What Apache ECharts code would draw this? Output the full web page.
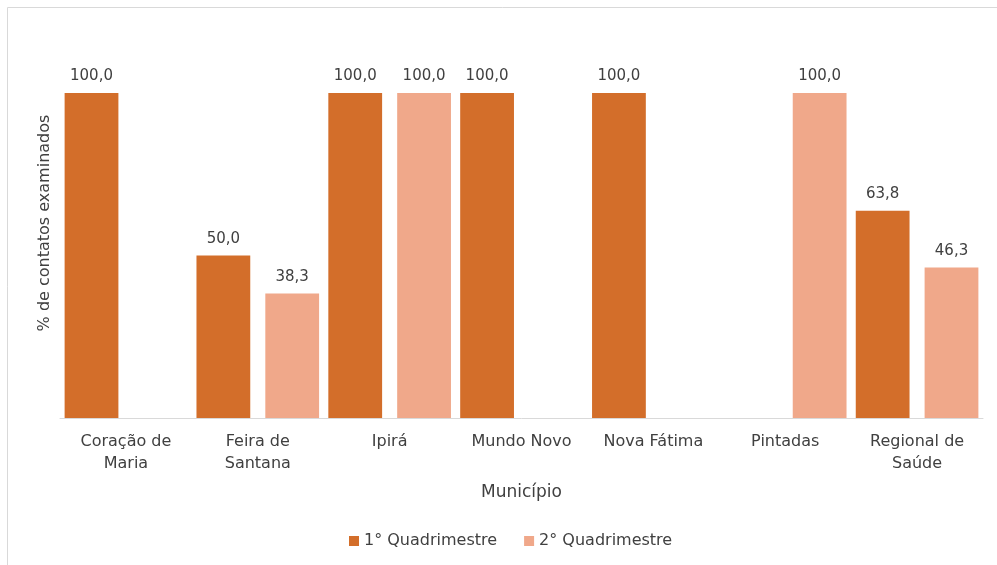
<!DOCTYPE html>
<html>
<head>
<meta charset="utf-8">
<script src="https://cdn.jsdelivr.net/npm/echarts@6/dist/echarts.min.js"></script>
<style>
  html, body { margin: 0; padding: 0; background: #fff; }
  #chart { width: 997px; height: 565px; }
</style>
</head>
<body>
<div id="chart"></div>
<script>
// categorias e valores
const municipios = ['Coração de\nMaria', 'Feira de\nSantana', 'Ipirá', 'Mundo Novo', 'Nova Fátima', 'Pintadas', 'Regional de\nSaúde'];
const quad1 = [100.0, 50.0, 100.0, 100.0, 100.0, null, 63.8];
const quad2 = [null, 38.3, 100.0, null, null, 100.0, 46.3];
const seriesNames = ['1° Quadrimestre', '2° Quadrimestre'];

const chart = echarts.init(document.getElementById('chart'));

const fmt = (p) => (p.value == null ? '' : p.value.toFixed(1).replace('.', ','));
const txt = '#404040';
const font = 'DejaVu Sans, sans-serif';

chart.setOption({
    animation: false,
    textStyle: { fontFamily: font },
    graphic: [{
        type: 'rect',
        shape: { x: 7.5, y: 7.5, width: 1100, height: 700 },
        style: { fill: 'none', stroke: '#d9d9d9', lineWidth: 1 }
    }],
    grid: { left: 60, right: 14, top: 28, bottom: 147 },
    legend: {
        bottom: 11,
        left: 344,
        itemWidth: 10,
        itemHeight: 10,
        itemGap: 27,
        icon: 'rect',
        textStyle: { color: txt, fontSize: 16, fontFamily: font }
    },
    xAxis: {
        type: 'category',
        data: municipios,
        name: 'Município',
        nameLocation: 'middle',
        nameGap: 66,
        nameTextStyle: { color: txt, fontSize: 17 },
        axisLine: { lineStyle: { color: '#d9d9d9' } },
        axisTick: { show: false },
        axisLabel: { color: txt, fontSize: 16, lineHeight: 22, margin: 13, interval: 0 }
    },
    yAxis: {
        type: 'value',
        min: 0,
        max: 120,
        name: '% de contatos examinados',
        nameLocation: 'middle',
        nameGap: 7,
        nameTextStyle: { color: txt, fontSize: 16 },
        axisLine: { show: false },
        axisTick: { show: false },
        axisLabel: { show: false },
        splitLine: { show: false }
    },
    series: [
        {
            name: seriesNames[0],
            type: 'bar',
            data: quad1,
            barGap: '28%',
            barCategoryGap: '7%',
            itemStyle: { color: '#d36e2a' },
            label: { show: true, position: 'top', distance: 9, color: txt, fontSize: 15, formatter: fmt }
        },
        {
            name: seriesNames[1],
            type: 'bar',
            data: quad2,
            itemStyle: { color: '#f0a88a' },
            label: { show: true, position: 'top', distance: 9, color: txt, fontSize: 15, formatter: fmt }
        }
    ]
});
</script>
</body>
</html>
